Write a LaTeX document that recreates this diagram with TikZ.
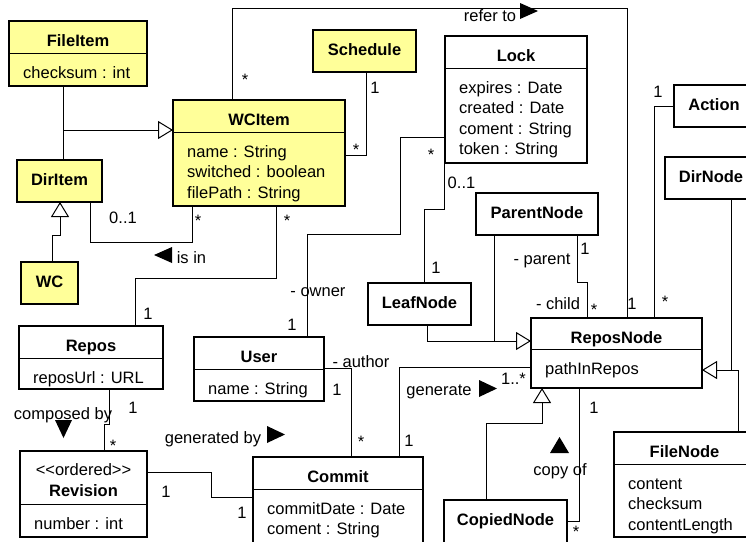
\documentclass[tikz,border=0pt]{standalone}
\usepackage{fontspec}
\setmainfont{Liberation Sans}
\usetikzlibrary{arrows.meta}

\definecolor{classyellow}{RGB}{255,255,153}

\tikzset{
    cls/.style={draw, line width=2.4pt, fill=white, anchor=north west, inner sep=0pt, outer sep=0pt},
    yellowcls/.style={cls, fill=classyellow},
    ttl/.style={font=\fontsize{16.5}{20.5}\selectfont\bfseries, anchor=base, inner sep=0pt},
    attrs/.style={font=\fontsize{16.5}{20.5}\selectfont, anchor=north west, align=left, inner xsep=14pt, inner ysep=10.5pt},
    lbl/.style={font=\fontsize{16.5}{20.5}\selectfont, anchor=base, inner sep=0pt},
    sepline/.style={line width=1pt},
    assoc/.style={line width=1pt},
    generalize/.style={line width=1pt, -{Triangle[open, length=15pt, width=18pt]}},
}

\begin{document}
\begin{tikzpicture}[x=1pt, y=-1pt]
        %\draw[color=lightgray] (0, 0) grid[step=20] (746, 541);
        \useasboundingbox (0, 0) rectangle (746, 541);
        \clip (0, 0) rectangle (746, 541);

        % working copy side
        \node[yellowcls, minimum width=138pt, minimum height=65pt] (fileitem) at (9, 21) {};
        \node[ttl] (fileitem-t) at ([yshift=-25pt]fileitem.north) {FileItem};
        \draw[sepline] ([yshift=-32pt]fileitem.north west) -- ([yshift=-32pt]fileitem.north east);
        \node[attrs] (fileitem-a) at ([yshift=-32pt]fileitem.north west) {\strut checksum : int};

        \node[yellowcls, minimum width=172pt, minimum height=106pt] (wcitem) at (173, 100) {};
        \node[ttl] (wcitem-t) at ([yshift=-25pt]wcitem.north) {WCItem};
        \draw[sepline] ([yshift=-32pt]wcitem.north west) -- ([yshift=-32pt]wcitem.north east);
        \node[attrs] (wcitem-a) at ([yshift=-32pt]wcitem.north west) {\strut name : String\\switched : boolean\\filePath : String};

        \node[yellowcls, minimum width=103pt, minimum height=42pt] (schedule) at (313, 30) {};
        \node[ttl] (schedule-t) at ([yshift=-25pt]schedule.north) {Schedule};

        \node[yellowcls, minimum width=85pt, minimum height=42pt] (diritem) at (17, 160) {};
        \node[ttl] (diritem-t) at ([yshift=-25pt]diritem.north) {DirItem};

        \node[yellowcls, minimum width=57pt, minimum height=42pt] (wc) at (21, 262) {};
        \node[ttl] (wc-t) at ([yshift=-25pt]wc.north) {WC};

        % repository side
        \node[cls, minimum width=142pt, minimum height=127pt] (lock) at (445, 36) {};
        \node[ttl] (lock-t) at ([yshift=-25pt]lock.north) {Lock};
        \draw[sepline] ([yshift=-32pt]lock.north west) -- ([yshift=-32pt]lock.north east);
        \node[attrs] (lock-a) at ([yshift=-32pt]lock.north west) {\strut expires : Date\\created : Date\\coment : String\\token : String};

        \node[cls, minimum width=122pt, minimum height=42pt] (parentnode) at (476, 193) {};
        \node[ttl] (parentnode-t) at ([yshift=-25pt]parentnode.north) {ParentNode};

        \node[cls, minimum width=103pt, minimum height=42pt] (leafnode) at (368, 283) {};
        \node[ttl] (leafnode-t) at ([yshift=-25pt]leafnode.north) {LeafNode};

        \node[cls, minimum width=80pt, minimum height=42pt] (action) at (674, 85) {};
        \node[ttl] (action-t) at ([yshift=-25pt]action.north) {Action};

        \node[cls, minimum width=92pt, minimum height=42pt] (dirnode) at (665, 157) {};
        \node[ttl] (dirnode-t) at ([yshift=-25pt]dirnode.north) {DirNode};

        \node[cls, minimum width=171pt, minimum height=70pt] (reposnode) at (531, 318) {};
        \node[ttl] (reposnode-t) at ([yshift=-25pt]reposnode.north) {ReposNode};
        \draw[sepline] ([yshift=-31pt]reposnode.north west) -- ([yshift=-31pt]reposnode.north east);
        \node[attrs] (reposnode-a) at ([yshift=-31pt]reposnode.north west) {\strut pathInRepos};

        \node[cls, minimum width=141pt, minimum height=105pt] (filenode) at (614, 432) {};
        \node[ttl] (filenode-t) at ([yshift=-25pt]filenode.north) {FileNode};
        \draw[sepline] ([yshift=-32pt]filenode.north west) -- ([yshift=-32pt]filenode.north east);
        \node[attrs] (filenode-a) at ([yshift=-32pt]filenode.north west) {\strut content\\checksum\\contentLength};

        \node[cls, minimum width=123pt, minimum height=60pt] (copiednode) at (444, 500) {};
        \node[ttl] (copiednode-t) at ([yshift=-25pt]copiednode.north) {CopiedNode};

        \node[cls, minimum width=130pt, minimum height=64pt] (user) at (194, 337) {};
        \node[ttl] (user-t) at ([yshift=-25pt]user.north) {User};
        \draw[sepline] ([yshift=-32pt]user.north west) -- ([yshift=-32pt]user.north east);
        \node[attrs] (user-a) at ([yshift=-32pt]user.north west) {\strut name : String};

        \node[cls, minimum width=144pt, minimum height=63pt] (repos) at (19, 326) {};
        \node[ttl] (repos-t) at ([yshift=-25pt]repos.north) {Repos};
        \draw[sepline] ([yshift=-32pt]repos.north west) -- ([yshift=-32pt]repos.north east);
        \node[attrs] (repos-a) at ([yshift=-32pt]repos.north west) {\strut reposUrl : URL};

        \node[cls, minimum width=127pt, minimum height=86pt] (revision) at (20, 451) {};
        \node[lbl] (revision-s) at ([yshift=-24pt]revision.north) {<\kern0pt<ordered>\kern0pt>};
        \node[ttl] (revision-t) at ([yshift=-45pt]revision.north) {Revision};
        \draw[sepline] ([yshift=-53pt]revision.north west) -- ([yshift=-53pt]revision.north east);
        \node[attrs] (revision-a) at ([yshift=-53pt]revision.north west) {\strut number : int};

        \node[cls, minimum width=170pt, minimum height=100pt] (commit) at (253, 457) {};
        \node[ttl] (commit-t) at ([yshift=-25pt]commit.north) {Commit};
        \draw[sepline] ([yshift=-32pt]commit.north west) -- ([yshift=-32pt]commit.north east);
        \node[attrs] (commit-a) at ([yshift=-32pt]commit.north west) {\strut commitDate : Date\\coment : String};

        % generalizations
        \draw[assoc] ([xshift=54pt]fileitem.south west) -- ([xshift=46pt]diritem.north west);
        \draw[generalize] ([xshift=54pt, yshift=-44pt]fileitem.south west) -- ([yshift=-30pt]wcitem.north west);
        \draw[generalize] ([xshift=31pt]wc.north west) -- ++(0, -27) -| ([xshift=43pt]diritem.south west);
        \draw[generalize] ([xshift=59pt]leafnode.south west) |- ([yshift=-23pt]reposnode.north west);
        \draw[assoc] ([xshift=18pt]parentnode.south west) -- ++(0, 106);
        \draw[generalize] ([xshift=66pt]dirnode.south west) |- ([yshift=-52pt]reposnode.north east);
        \draw[assoc] ([xshift=124pt]filenode.north west) -- ++(0, -62) -- ++(-7, 0);
        \draw[generalize] ([xshift=42pt]copiednode.north west) -- ++(0, -77) -| ([xshift=11pt]reposnode.south west);

        % associations
        \draw[assoc] ([xshift=73pt]diritem.south west) -- ++(0, 40) -| ([xshift=19pt]wcitem.south west);
        \draw[assoc] ([xshift=103pt]wcitem.south west) -- ++(0, 72) -| ([xshift=116pt]repos.north west);
        \draw[assoc] ([xshift=59pt]wcitem.north west) -- ++(0, -92) -| ([xshift=96pt]reposnode.north west);
        \draw[assoc] ([xshift=53pt]schedule.south west) |- ([yshift=-55pt]wcitem.north east);
        \draw[assoc] ([yshift=-101pt]lock.north west) -| ++(-45, 97) -| ([xshift=113pt]user.north west);
        \draw[assoc] ([xshift=-1pt]lock.south west) -- ++(0, 46) -| ([xshift=56pt]leafnode.north west);
        \draw[assoc] ([xshift=101pt]parentnode.south west) -- ++(0, 47) -| ([xshift=56pt]reposnode.north west);
        \draw[assoc] ([yshift=-21pt]action.north west) -| ([xshift=123pt]reposnode.north west);
        \draw[assoc] ([xshift=48pt]reposnode.south west) |- ([yshift=-21pt]copiednode.north east);
        \draw[assoc] ([xshift=146pt]commit.north west) |- ([yshift=-49pt]reposnode.north west);
        \draw[assoc] ([yshift=-31pt]user.north east) -| ([xshift=98pt]commit.north west);
        \draw[assoc] ([xshift=90pt]repos.south west) -- ++(0, 35) -| ([xshift=84pt]revision.north west);
        \draw[assoc] ([yshift=-21pt]revision.north east) -| ++(64, 25) -- ([yshift=-40pt]commit.north west);

        % labels and multiplicities
        \node[lbl] (m-diritem) at (123, 223) {0..1};
        \node[lbl] (m-isin) at (198, 226.5) {*};
        \node[lbl] (isin) at (191.5, 263) {is in};
        \fill (154, 255) -- (172, 247) -- (172, 263) -- cycle;
        \node[lbl] (m-wcitem) at (287, 226.5) {*};
        \node[lbl] (m-repos) at (148, 319) {1};
        \node[lbl] (m-refer) at (245, 85.5) {*};
        \node[lbl] (referto) at (490, 21) {refer to};
        \fill (538, 11) -- (520, 3) -- (520, 19) -- cycle;
        \node[lbl] (m-refer2) at (632, 309) {1};
        \node[lbl] (m-schedule) at (375, 93) {1};
        \node[lbl] (m-schedule2) at (356, 155.5) {*};
        \node[lbl] (m-lock) at (431, 160.5) {*};
        \node[lbl] (owner) at (318, 296) {- owner};
        \node[lbl] (m-owner) at (292, 330) {1};
        \node[lbl] (m-lock2) at (461.5, 188) {0..1};
        \node[lbl] (m-leaf) at (436, 273) {1};
        \node[lbl] (parent) at (542, 264) {- parent};
        \node[lbl] (m-parent) at (585, 254) {1};
        \node[lbl] (child) at (558, 309) {- child};
        \node[lbl] (m-child) at (594, 315.5) {*};
        \node[lbl] (m-action) at (658, 97) {1};
        \node[lbl] (m-action2) at (665, 307.5) {*};
        \node[lbl] (m-copy) at (594, 413) {1};
        \node[lbl] (m-copy2) at (576, 537) {*};
        \node[lbl] (copyof) at (560, 475) {copy of};
        \fill (559.5, 437) -- (569, 453) -- (550, 453) -- cycle;
        \node[lbl] (m-generate) at (513.5, 384) {1..*};
        \node[lbl] (generate) at (439, 395) {generate};
        \fill (497, 388.5) -- (479, 380) -- (479, 397) -- cycle;
        \node[lbl] (m-generate2) at (409, 446) {1};
        \node[lbl] (author) at (361, 367) {- author};
        \node[lbl] (m-author) at (337, 395) {1};
        \node[lbl] (m-author2) at (361, 447.5) {*};
        \node[lbl] (composedby) at (63, 419) {composed by};
        \fill (63.5, 438) -- (55, 420) -- (72, 420) -- cycle;
        \node[lbl] (m-composed) at (133, 413) {1};
        \node[lbl] (m-composed2) at (113, 451.5) {*};
        \node[lbl] (m-revision) at (166, 497) {1};
        \node[lbl] (m-commit) at (242, 518) {1};
        \node[lbl] (generatedby) at (213, 443.5) {generated by};
        \fill (285, 434.5) -- (267, 426) -- (267, 443) -- cycle;
\end{tikzpicture}
\end{document}
